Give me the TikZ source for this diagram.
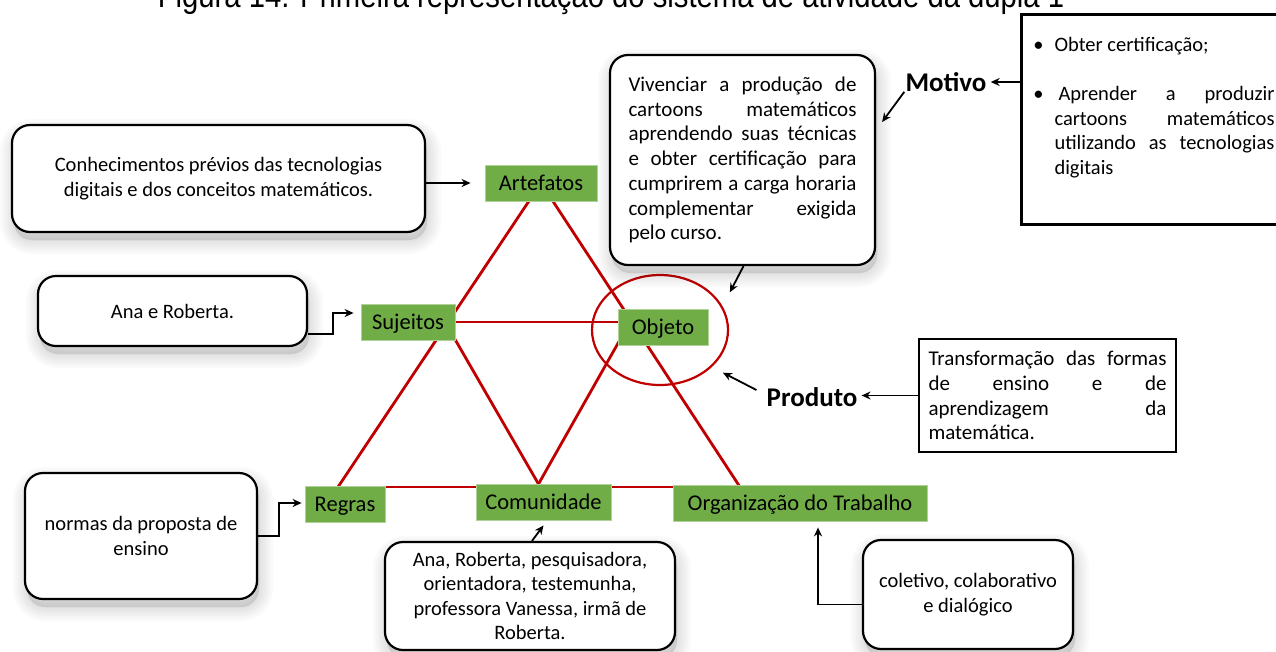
\documentclass[tikz,border=0pt]{standalone}
\usepackage{fontspec}
\setmainfont{Carlito}
\newfontfamily\titlefont{Liberation Sans}
\usetikzlibrary{arrows.meta,calc,shapes.geometric}
\definecolor{grn}{HTML}{70AD47}
\definecolor{rd}{HTML}{C00000}
\newcommand{\boxfont}{\fontsize{20.5}{24.5}\selectfont}
\newcommand{\parafont}{\fontsize{21}{24.7}\selectfont}

\begin{document}
\begin{tikzpicture}[x=1pt,y=-1pt,
  lbl/.style={fill=grn, draw=grn!55!white, line width=0.8pt, minimum height=36pt,
    inner sep=0pt, text height=16pt, text depth=1.5pt, font=\fontsize{22.5}{27}\selectfont},
  shadowpass/.style={preaction={draw=black, fill=black, line width=#1, opacity=0.018,
      transform canvas={shift={(2pt,-8pt)}}}},
  softshadow/.style={shadowpass=28pt, shadowpass=23pt, shadowpass=18pt, shadowpass=13pt,
    shadowpass=8pt, shadowpass=3pt},
  rbox/.style={softshadow, draw=black, line width=2.2pt, rounded corners=18pt, fill=white,
    align=center, font=\boxfont, inner sep=0pt},
  sbox/.style={draw=black, fill=white, inner sep=0pt},
  redline/.style={draw=rd, line width=2.8pt},
  arr/.style={draw=black, line width=1.8pt, -{Stealth[length=9pt,width=8pt]}},
  keyword/.style={font=\fontsize{27}{30}\selectfont\bfseries, inner sep=4pt}
]
\useasboundingbox (0,0) rectangle (1276,651);

% caption line at the top
\node[anchor=base] (title) at (611,7)
  {\titlefont\fontsize{34}{34}\selectfont\scalebox{0.86}[1]{Figura 14: Primeira representação do sistema de atividade da dupla 1}};

% corners of the two triangles (hidden under the element labels)
\coordinate (artC) at (541,183);
\coordinate (regT) at (338,487);
\coordinate (orgT) at (740,487);
\coordinate (comT) at (538.5,484);
\coordinate (sujR) at (445,322);
\coordinate (objL) at (630,322);

% triangle edges
\draw[redline] (artC) -- (regT);
\draw[redline] (artC) -- (orgT);
\draw[redline] (regT) -- (orgT);
\draw[redline] (sujR) -- (objL);
\draw[redline] (sujR) -- (comT);
\draw[redline] (comT) -- (objL);

% ring around the object
\node[ellipse, draw=rd, line width=2.2pt, minimum width=136pt, minimum height=110pt,
      inner sep=0pt] (ring) at (660,330) {};

% elements of the activity system
\node[lbl, minimum width=112pt] (art) at (artC) {Artefatos};
\node[lbl, minimum width=94pt]  (suj) at (408,322) {Sujeitos};
\node[lbl, minimum width=90pt]  (obj) at (663,327) {Objeto};
\node[lbl, minimum width=80pt]  (reg) at (345,504) {Regras};
\node[lbl, minimum width=135pt] (com) at (543.5,502) {Comunidade};
\node[lbl, minimum width=254pt] (org) at (800,503) {Organização do Trabalho};

% descriptive boxes
\node[rbox, minimum width=413pt, minimum height=107pt] (know) at (218.5,178.5)
  {Conhecimentos prévios das tecnologias\\digitais e dos conceitos matemáticos.};
\node[rbox, minimum width=269pt, minimum height=70pt] (ana) at (172.5,311)
  {Ana e Roberta.};
\node[rbox, minimum width=232pt, minimum height=126pt] (norm) at (141,536)
  {normas da proposta de\\ensino};
\node[rbox, minimum width=290pt, minimum height=108pt] (cbox) at (530,596)
  {Ana, Roberta, pesquisadora,\\orientadora, testemunha,\\professora Vanessa, irmã de\\Roberta.};
\node[rbox, minimum width=210pt, minimum height=109pt] (colbox) at (968,594.5)
  {coletivo, colaborativo\\e dialógico};
\node[rbox, minimum width=265pt, minimum height=210pt, align=justify,
      text width=228pt, font=\parafont] (call) at (742.5,160)
  {Vivenciar a produção de\linebreak
   cartoons matemáticos\linebreak
   aprendendo suas técnicas\linebreak
   e obter certificação para\linebreak
   cumprirem a carga horaria\linebreak
   complementar exigida\linebreak
   pelo curso.};

% motive and product
\node[sbox, line width=3pt, anchor=north west, inner xsep=10pt, inner ysep=10pt] (mbox) at (1020,13)
  {\parbox[t][190pt][t]{243pt}{\boxfont\parindent=0pt\leftskip=23pt
   \vspace*{13pt}\leavevmode\llap{\textbullet\hspace{11pt}}Obter certificação;\par
   \vspace{24.5pt}
   \leavevmode\llap{\textbullet\hspace{11pt}}\hspace{4pt}Aprender\hfill a\hfill produzir\linebreak
   cartoons matemáticos\linebreak
   utilizando as tecnologias\linebreak
   digitais\par}};
\node[keyword] (mot) at (946,82) {Motivo};

\node[sbox, line width=2pt, minimum width=257pt, minimum height=113pt, text width=238pt,
      align=justify, font=\parafont] (pbox) at (1047.5,395.5)
  {Transformação das formas\linebreak
   de ensino e de\linebreak
   aprendizagem da\linebreak
   matemática.};
\node[keyword] (prod) at (812,397) {Produto};

% connectors
\draw[arr] (know.east |- art.west) -- ($(art.west)+(-14,0)$);
\draw[arr] ($(ana.east)+(0,23)$) -- ++(25,0) |- ($(suj.west)+(-7,-9)$);
\draw[arr] (norm.east) -- ++(21,0) |- ($(reg.west)+(-3,-1)$);
\draw[arr] ($(cbox.north)+(2,0)$) -- ($(com.south)+(0,5)$);
\draw[arr] ($(colbox.west)+(0,10)$) -| ($(org.south)+(18,6)$);
\draw[arr] (mot.east -| mbox.west) -- (mot.east);
\draw[arr] ($(mot.south west)+(3,-4)$) -- ($(call.east)+(6,-38)$);
\draw[arr] ($(call.south)+(1,0)$) -- ($(ring.north east)+(21,2)$);
\draw[arr] ($(prod.west)+(-6,-7)$) -- ($(ring.south east)+(14,3)$);
\draw[arr] (pbox.west) -- (pbox.west -| prod.east);
\end{tikzpicture}
\end{document}
